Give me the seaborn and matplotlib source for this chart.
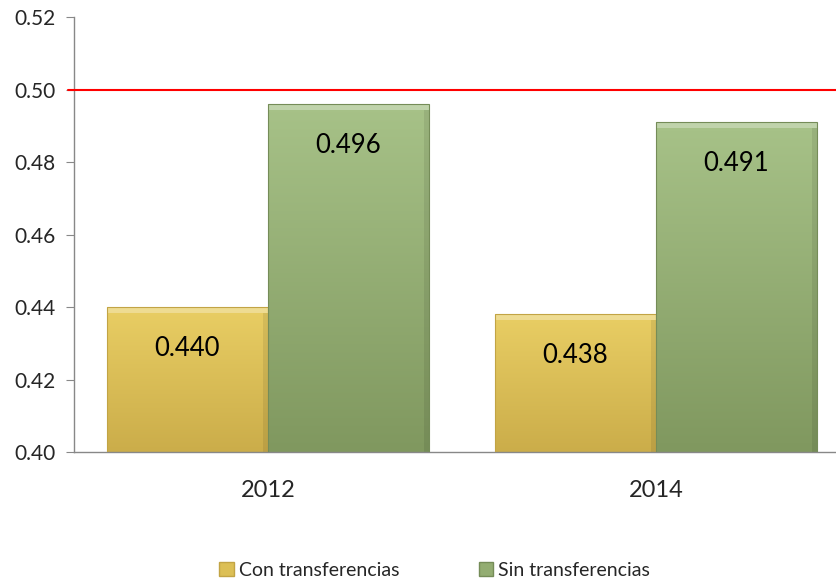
import matplotlib
matplotlib.use("Agg")
import matplotlib.pyplot as plt
import matplotlib.colors as mcolors
from matplotlib.patches import Patch, Rectangle
import numpy as np
import pandas as pd
import seaborn as sns

# data
years = ["2012", "2014"]
series = ["Con transferencias", "Sin transferencias"]
con_transf = [0.440, 0.438]
sin_transf = [0.496, 0.491]
y_ticks = [0.40, 0.42, 0.44, 0.46, 0.48, 0.50, 0.52]
linea_ref = 0.50

df = pd.DataFrame({
    "Año": years * 2,
    "Serie": [series[0]] * 2 + [series[1]] * 2,
    "Valor": con_transf + sin_transf,
})

# colours (top of gradient, bottom of gradient)
grad_colors = {
    series[0]: ("#e9ce64", "#cbad4a"),
    series[1]: ("#a7c288", "#80985f"),
}
edge_colors = {series[0]: "#c2a445", series[1]: "#758c58"}
mid_colors = {series[0]: "#dcbf55", series[1]: "#93ad72"}

sns.set_style("white")
plt.rcParams["font.family"] = ["Lato", "DejaVu Sans"]

fig = plt.figure(figsize=(8.36, 5.79), dpi=100)
ax = fig.add_axes([0.0885, 0.2193, 0.928, 0.7513])

sns.barplot(data=df, x="Año", y="Valor", hue="Serie", hue_order=series,
            palette=mid_colors, width=0.83, gap=0, saturation=1,
            legend=False, ax=ax)

ymin, ymax = 0.40, 0.52

# gradient fill + bevel on each bar
grad = np.linspace(0, 1, 256).reshape(-1, 1)
for container, name in zip(ax.containers, series):
    top_c, bot_c = grad_colors[name]
    cmap = mcolors.LinearSegmentedColormap.from_list(name, [bot_c, top_c])
    for bar in container:
        x0 = bar.get_x()
        x1 = x0 + bar.get_width()
        y0 = max(bar.get_y(), ymin)
        y1 = bar.get_y() + bar.get_height()
        im = ax.imshow(grad, extent=[x0, x1, y0, y1], origin="lower",
                       aspect="auto", cmap=cmap, zorder=2)
        im.set_clip_path(bar)
        bar.set_facecolor("none")
        bar.set_edgecolor(edge_colors[name])
        bar.set_linewidth(0.8)
        bar.set_zorder(3)
        # lighter top strip and darker right strip for the bevel look
        h = 0.0017
        w = 0.012
        ax.add_patch(Rectangle((x0, y1 - h), x1 - x0, h, facecolor="white",
                               alpha=0.3, edgecolor="none", zorder=2.5))
        ax.add_patch(Rectangle((x1 - w, y0), w, y1 - y0 - h, facecolor="black",
                               alpha=0.08, edgecolor="none", zorder=2.5))
        ax.annotate(f"{y1:.3f}", xy=((x0 + x1) / 2, y1), xytext=(0, -30),
                    textcoords="offset points", ha="center", va="center",
                    fontsize=18.5, color="black", zorder=4)

ax.axhline(linea_ref, color="red", lw=1.5, xmin=-0.008, xmax=1, clip_on=False, zorder=5)

ax.set_xlim(-0.5, 1.5)
ax.set_ylim(ymin, ymax)
ax.set_yticks(y_ticks)
ax.set_yticklabels([f"{t:.2f}" for t in y_ticks], fontsize=15)
ax.set_xticks(range(len(years)))
ax.set_xticklabels(years, fontsize=17)
ax.set_xticks([-0.5, 0.5, 1.5], minor=True)
ax.tick_params(axis="x", which="major", length=0, pad=20)
ax.tick_params(axis="x", which="minor", length=6, color="#888888", direction="out")
ax.tick_params(axis="y", length=6, color="#888888", direction="out", left=True, pad=7)
ax.set_xlabel("")
ax.set_ylabel("")

for side in ["top", "right"]:
    ax.spines[side].set_visible(False)
for side in ["left", "bottom"]:
    ax.spines[side].set_color("#888888")
    ax.spines[side].set_linewidth(1)

handles = [Patch(facecolor=mid_colors[s], edgecolor=edge_colors[s]) for s in series]
fig.legend(handles, series, loc="lower center", bbox_to_anchor=(0.52, -0.03),
           ncol=2, frameon=False, fontsize=14, handlelength=0.75, handleheight=0.75,
           handletextpad=0.25, columnspacing=4.1)

fig.savefig("out.png", dpi=100)
